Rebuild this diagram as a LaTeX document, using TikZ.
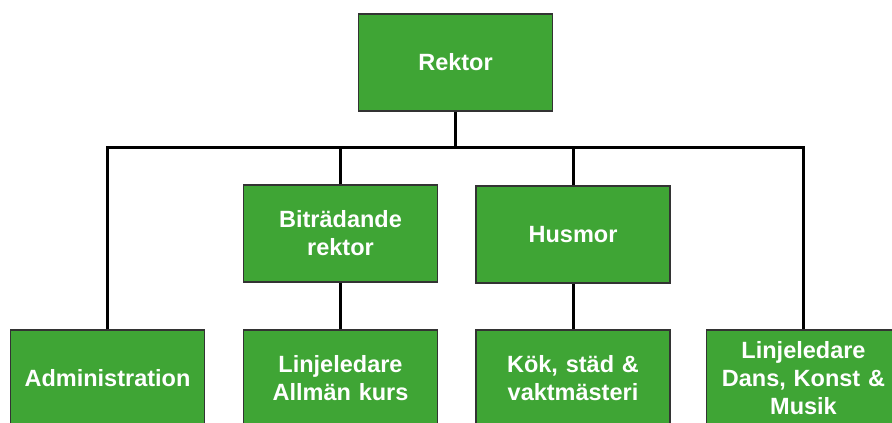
\documentclass[tikz,border=0pt]{standalone}
\usepackage{fontspec}
\setmainfont{Liberation Sans}
\begin{document}
\begin{tikzpicture}[x=1pt,y=-1pt,
  box/.style={draw=black!80, line width=1.2pt, fill=boxgreen, text=white,
    font=\fontsize{23.5}{28}\selectfont\bfseries, align=center,
    minimum width=194pt, minimum height=97pt, inner sep=0pt, text width=190pt},
  conn/.style={line width=3pt, draw=black}]
\definecolor{boxgreen}{RGB}{63,165,53}
\useasboundingbox (0,0) rectangle (892,423);
\clip (0,0) rectangle (892,423);
\fill[white] (0,0) rectangle (892,423);
\node[box] (rek) at (455.5,62.5) {Rektor};
\node[box] (bit) at (340.5,233.5) {Biträdande\\rektor};
\node[box] (hus) at (573,234.5) {Husmor};
\node[box] (adm) at (107.5,378.5) {Administration};
\node[box] (lin) at (340.5,378.5) {Linjeledare\\Allmän kurs};
\node[box] (kok) at (573,378.5) {Kök, städ \&\\vaktmästeri};
\node[box] (dans) at (803.5,378.5) {Linjeledare\\Dans, Konst \&\\Musik};
\coordinate (hub) at (455.5,147.5);
\draw[conn] (adm.north) -- (adm.north |- hub) -- (dans.north |- hub) -- (dans.north);
\draw[conn] (rek.south) -- (hub);
\draw[conn] (bit.north) -- (bit.north |- hub);
\draw[conn] (hus.north) -- (hus.north |- hub);
\draw[conn] (bit.south) -- (lin.north);
\draw[conn] (hus.south) -- (kok.north);
\end{tikzpicture}
\end{document}
